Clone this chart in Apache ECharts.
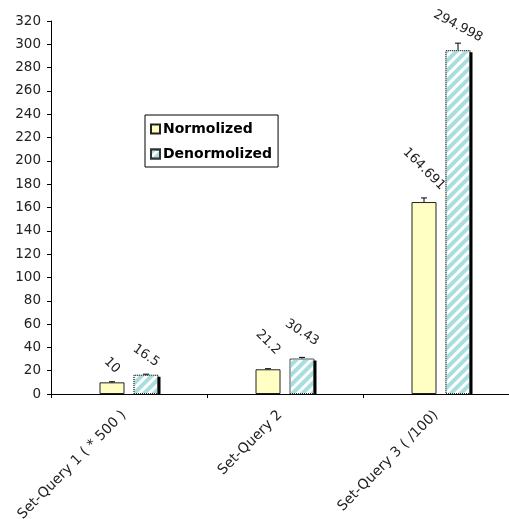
<!DOCTYPE html>
<html>
<head>
<meta charset="utf-8">
<script src="https://cdn.jsdelivr.net/npm/echarts@6/dist/echarts.min.js"></script>
<style>html,body{margin:0;padding:0;background:#fff}#c{width:509px;height:519px}</style>
</head>
<body>
<div id="c"></div>
<script>
var categories = ['Set-Query 1 ( * 500 )', 'Set-Query 2', 'Set-Query 3 ( /100)'];
var normalized = [10, 21.2, 164.691];
var denormalized = [16.5, 30.43, 294.998];
var normalizedErr = [0.5, 0.5, 3.5];
var denormalizedErr = [0.5, 1, 6];
var normalizedLabels = ['10', '21.2', '164.691'];
var denormalizedLabels = ['16.5', '30.43', '294.998'];

// label placement styles (pixels above bar top, rotation in degrees)
var normLabelDist = [17, 27, 33];
var denormLabelDist = [19, 26, 24];
var normLabelRot = [-45, -45, -45];
var denormLabelRot = [-35, -33, -28];

var chart = echarts.init(document.getElementById('c'), null, {renderer: 'canvas'});
var FONT = 'DejaVu Sans, sans-serif';
var BAR_W = 25;

function errSeries(vals, errs, dx, edge) {
  return {
    type: 'custom',
    silent: true,
    z: 5,
    data: vals.map(function (v, i) { return [i, v, v + errs[i]]; }),
    renderItem: function (params, api) {
      var base = api.coord([api.value(0), 0]);
      var p0 = api.coord([api.value(0), api.value(1)]);
      var p1 = api.coord([api.value(0), api.value(2)]);
      var x = p0[0] + dx;
      var children = [
        {type: 'line', shape: {x1: x, y1: p0[1], x2: x, y2: p1[1]}, style: {stroke: '#000', lineWidth: 1}},
        {type: 'line', shape: {x1: x - 3, y1: p1[1], x2: x + 3, y2: p1[1]}, style: {stroke: '#000', lineWidth: 1}}
      ];
      if (edge) {
        children.push({type: 'rect', shape: {x: x + BAR_W / 2 - 1, y: p0[1] + 2, width: 3, height: base[1] - p0[1] - 2}, style: {fill: '#000'}});
      }
      return {type: 'group', children: children};
    }
  };
}

function barData(vals, labels, dists, rots) {
  return vals.map(function (v, i) {
    return {value: v, label: {distance: dists[i], rotate: rots[i], formatter: labels[i]}};
  });
}

var option = {
  backgroundColor: '#fff',
  animation: false,
  grid: {left: 51, top: 21, width: 468, bottom: 125, containLabel: false, outerBoundsMode: 'none'},
  legend: {
    orient: 'vertical',
    left: 145, top: 115,
    padding: [7, 6, 6, 5],
    itemGap: 11,
    itemWidth: 9, itemHeight: 9,
    icon: 'rect',
    borderColor: '#000', borderWidth: 1,
    backgroundColor: '#fff',
    data: ['Normolized', 'Denormolized'],
    textStyle: {fontFamily: FONT, fontSize: 14, fontWeight: 'bold', color: '#000', padding: [0, 0, 0, -2]}
  },
  xAxis: {
    type: 'category',
    data: categories,
    axisLine: {lineStyle: {color: '#000', width: 1}},
    axisTick: {show: true, length: 4, inside: false, lineStyle: {color: '#000'}},
    axisLabel: {rotate: 45, fontFamily: FONT, fontSize: 14, color: '#222', margin: 14, interval: 0, padding: [0, 7, 0, 0]}
  },
  yAxis: {
    type: 'value',
    min: 0, max: 320, interval: 20,
    splitLine: {show: false},
    axisLine: {show: true, lineStyle: {color: '#000', width: 1}},
    axisTick: {show: true, length: 4, lineStyle: {color: '#000'}},
    axisLabel: {fontFamily: FONT, fontSize: 13.5, color: '#222', margin: 10}
  },
  series: [
    {
      name: 'Normolized',
      type: 'bar',
      barWidth: BAR_W,
      barGap: '36%',
      data: barData(normalized, normalizedLabels, normLabelDist, normLabelRot),
      itemStyle: {color: '#FFFFC4', borderColor: '#222', borderWidth: 1},
      label: {
        show: true, position: 'top',
        align: 'center', verticalAlign: 'middle',
        fontFamily: FONT, fontSize: 13, color: '#222'
      }
    },
    {
      name: 'Denormolized',
      type: 'bar',
      barWidth: BAR_W,
      data: barData(denormalized, denormalizedLabels, denormLabelDist, denormLabelRot),
      itemStyle: {
        color: '#fff',
        borderColor: '#333', borderWidth: 1, borderType: 'dotted',
        decal: {
          symbol: 'rect', symbolSize: 1,
          dashArrayX: [1, 0], dashArrayY: [3.5, 3],
          rotation: -Math.PI / 4,
          color: '#A8DEDE'
        }
      },
      label: {
        show: true, position: 'top',
        align: 'center', verticalAlign: 'middle',
        fontFamily: FONT, fontSize: 13, color: '#222'
      }
    },
    errSeries(normalized, normalizedErr, -17, false),
    errSeries(denormalized, denormalizedErr, 17, true)
  ]
};
chart.setOption(option);
</script>
</body>
</html>
